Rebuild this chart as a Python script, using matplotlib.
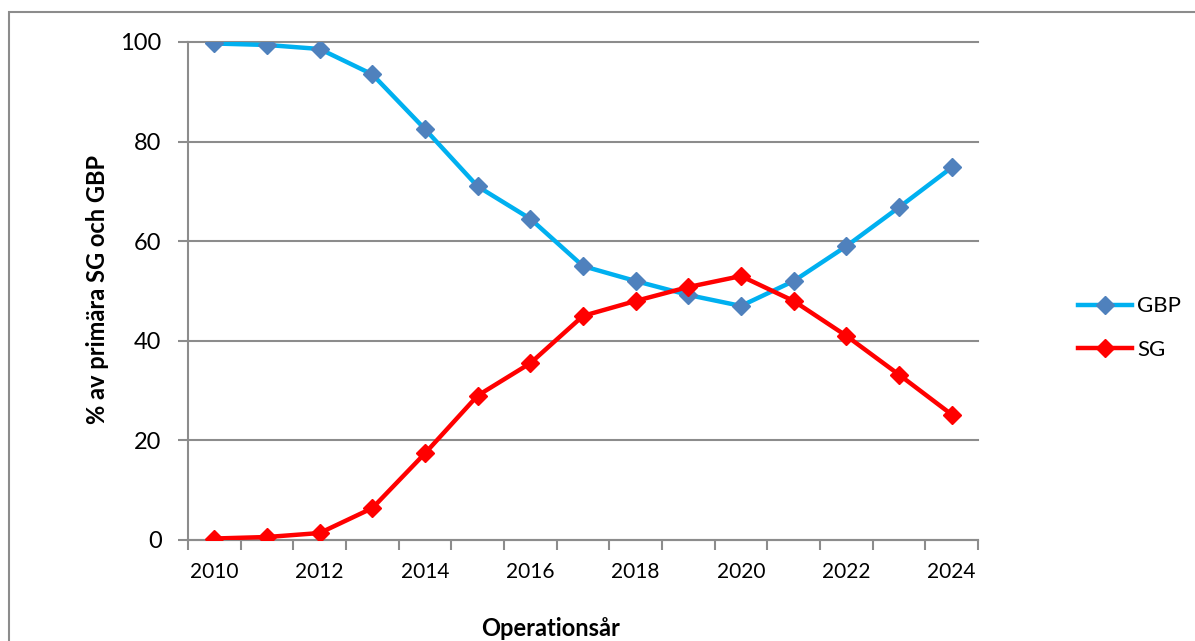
import matplotlib.pyplot as plt
from matplotlib.patches import Rectangle
import numpy as np

plt.rcParams['font.family'] = ['Lato', 'DejaVu Sans']

years = list(range(2010, 2025))
gbp = [99.7, 99.4, 98.6, 93.5, 82.5, 71.0, 64.5, 55.0, 52.0, 49.2, 47.0, 52.0, 59.0, 66.8, 74.8]
sg = [0.3, 0.6, 1.4, 6.4, 17.4, 29.0, 35.5, 45.0, 48.0, 50.8, 53.0, 48.0, 41.0, 33.2, 25.2]
year_labels = [2010, 2012, 2014, 2016, 2018, 2020, 2022, 2024]
y_ticks = [0, 20, 40, 60, 80, 100]

fig = plt.figure(figsize=(11.95, 6.41), dpi=100)
W, H = 1195, 641

# outer chart border (only top and left visible)
fig.add_artist(Rectangle((9 / W, -0.1), 1.2, (H - 11.5) / H + 0.1, transform=fig.transFigure,
                         fill=False, edgecolor='#8c8c8c', linewidth=1.5))

ax = fig.add_axes([188 / W, 1 - 540 / H, (978 - 188) / W, (540 - 42) / H])

ax.plot(years, gbp, color='#00B0F0', linewidth=3.2, marker='D', markersize=9,
        markerfacecolor='#4F81BD', markeredgecolor='#4F81BD', label='GBP', zorder=3)
ax.plot(years, sg, color='#FF0000', linewidth=3.2, marker='D', markersize=9,
        markerfacecolor='#FF0000', markeredgecolor='#FF0000', label='SG', zorder=3)

ax.set_xlim(2009.5, 2024.5)
ax.set_ylim(0, 100)

ax.set_yticks(y_ticks)
ax.tick_params(axis='y', length=7, width=1.5, color='#8c8c8c', labelsize=17, pad=12)
ax.yaxis.grid(True, color='#8c8c8c', linewidth=1.5)
ax.set_axisbelow(True)

# category boundaries as tick marks, labels under every second year
ax.set_xticks(np.arange(2009.5, 2025, 1.0), minor=True)
ax.set_xticks(year_labels)
ax.set_xticklabels([str(y) for y in year_labels])
ax.tick_params(axis='x', which='minor', length=7, width=1.5, color='#8c8c8c')
ax.tick_params(axis='x', which='major', length=0, labelsize=15, pad=16)

for s in ['top', 'right']:
    ax.spines[s].set_visible(False)
for s in ['left', 'bottom']:
    ax.spines[s].set_color('#8c8c8c')
    ax.spines[s].set_linewidth(1.5)

for t in ax.yaxis.get_major_ticks():
    t.gridline.set_clip_on(False)

fig.text(551 / W, 1 - 628 / H, 'Operationsår', fontsize=17, fontweight='bold',
         ha='center', va='center')
fig.text(98 / W, 1 - 290 / H, '% av primära SG och GBP', fontsize=17, fontweight='bold',
         ha='center', va='center', rotation=90)

fig.legend(loc='center left', bbox_to_anchor=(1078 / W, 1 - 328 / H), frameon=False,
           fontsize=16, handlelength=2.45, handletextpad=0.2, labelspacing=1.05,
           borderpad=0, borderaxespad=0)

fig.savefig('out.png', dpi=100)
